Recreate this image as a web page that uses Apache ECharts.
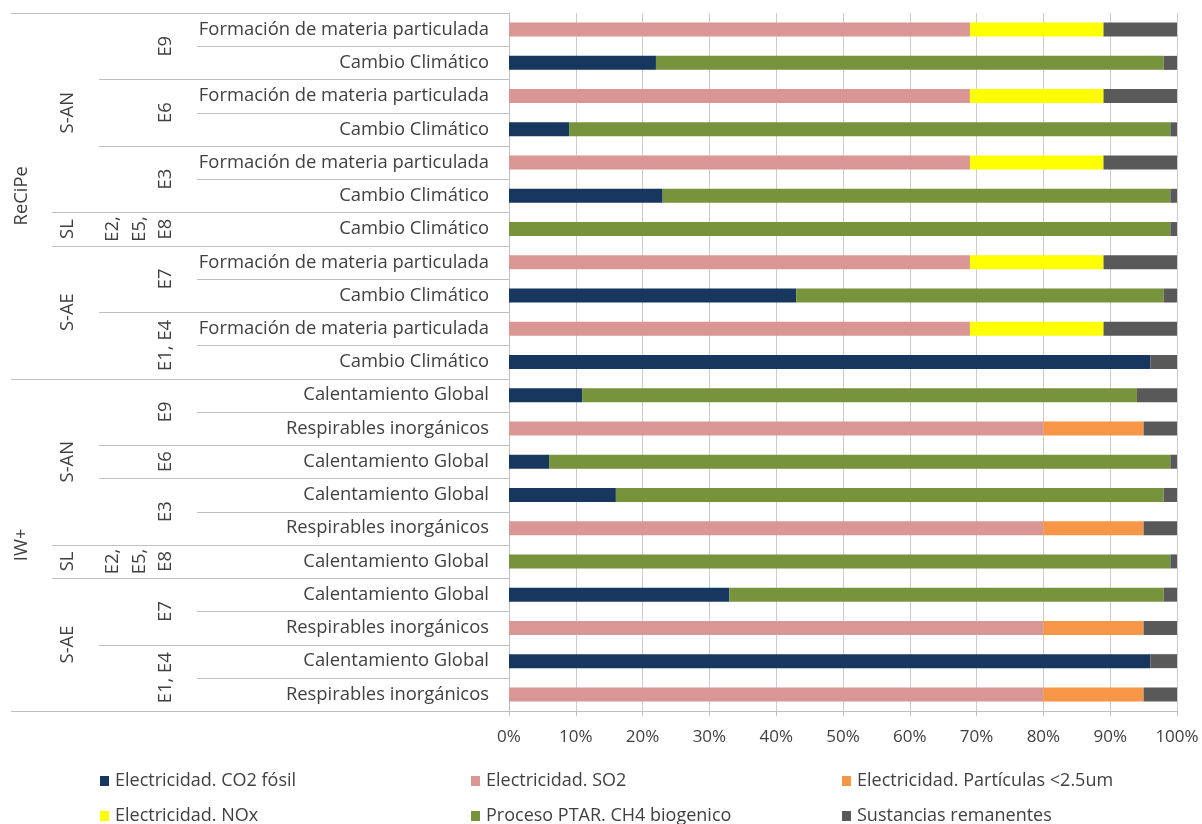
<!DOCTYPE html>
<html>
<head>
<meta charset="utf-8">
<script src="https://cdn.jsdelivr.net/npm/echarts@6/dist/echarts.min.js"></script>
<style>
html,body{margin:0;padding:0;background:#fff;}
#c{width:1202px;height:824px;}
</style>
</head>
<body>
<div id="c"></div>
<script>
// ---------- data ----------
const categories = [
  'Formación de materia particulada','Cambio Climático',
  'Formación de materia particulada','Cambio Climático',
  'Formación de materia particulada','Cambio Climático',
  'Cambio Climático',
  'Formación de materia particulada','Cambio Climático',
  'Formación de materia particulada','Cambio Climático',
  'Calentamiento Global','Respirables inorgánicos',
  'Calentamiento Global',
  'Calentamiento Global','Respirables inorgánicos',
  'Calentamiento Global',
  'Calentamiento Global','Respirables inorgánicos',
  'Calentamiento Global','Respirables inorgánicos'
];
const seriesNames = ['Electricidad. CO2 fósil','Electricidad. SO2','Electricidad. Partículas <2.5um',
  'Electricidad. NOx','Proceso PTAR. CH4 biogenico','Sustancias remanentes'];
const co2   = [0,22,0,9,0,23,0,0,43,0,96, 11,0,6,16,0,0,33,0,96,0];
const so2   = [69,0,69,0,69,0,0,69,0,69,0, 0,80,0,0,80,0,0,80,0,80];
const part  = [0,0,0,0,0,0,0,0,0,0,0, 0,15,0,0,15,0,0,15,0,15];
const nox   = [20,0,20,0,20,0,0,20,0,20,0, 0,0,0,0,0,0,0,0,0,0];
const ch4   = [0,76,0,90,0,76,99,0,55,0,0, 83,0,93,82,0,99,65,0,0,0];
const rem   = [11,2,11,1,11,1,1,11,2,11,4, 6,5,1,2,5,1,2,5,4,5];
const xTicks = [0,10,20,30,40,50,60,70,80,90,100];

// hierarchy groups: [label, firstRow, endRow)
const level1 = [['ReCiPe',0,11],['IW+',11,21]];
const level2 = [['S-AN',0,6],['SL',6,7],['S-AE',7,11],['S-AN',11,16],['SL',16,17],['S-AE',17,21]];
const level3 = [['E9',0,2],['E6',2,4],['E3',4,6],['E2,\nE5,\nE8',6,7],['E7',7,9],['E1, E4',9,11],
                ['E9',11,13],['E6',13,14],['E3',14,16],['E2,\nE5,\nE8',16,17],['E7',17,19],['E1, E4',19,21]];

const colors = ['#17375e','#d99694','#f79646','#ffff00','#77933c','#595959'];
const values = [co2,so2,part,nox,ch4,rem];

const FONT = 'Open Sans';
const TXT = '#404040';
const LINE = '#bfbfbf';

const chart = echarts.init(document.getElementById('c'));
const legendPos = [[100,770],[471,770],[842,770],[100,805],[471,805],[842,805]];

const option = {
  animation:false,
  color: colors,
  textStyle:{fontFamily:FONT},
  grid:{left:509,right:25,top:13,bottom:113,containLabel:false},
  xAxis:{type:'value',min:0,max:100,interval:10,
    axisLabel:{formatter:'{value}%',color:TXT,fontSize:17,margin:18,fontFamily:FONT,
      customValues: xTicks},
    axisLine:{show:true,lineStyle:{color:LINE}},
    axisTick:{show:true,length:5,lineStyle:{color:LINE}},
    splitLine:{show:true,lineStyle:{color:'#cccccc'}}
  },
  yAxis:{type:'category',inverse:true,data:categories,
    axisLabel:{color:TXT,fontSize:18.4,margin:20,fontFamily:FONT},
    axisLine:{show:true,lineStyle:{color:LINE}},
    axisTick:{show:false},splitLine:{show:false}
  },
  legend: seriesNames.map((n,i)=>({
    data:[n],left:legendPos[i][0],top:legendPos[i][1],padding:0,
    itemWidth:9,itemHeight:10,icon:'rect',itemGap:0,
    textStyle:{color:TXT,fontSize:18,fontFamily:FONT,lineHeight:22,padding:[0,0,0,1]}
  })),
  series: seriesNames.map((n,i)=>({
    name:n,type:'bar',stack:'t',barWidth:14,data:values[i],
    itemStyle:{color:colors[i]}
  }))
};
chart.setOption(option);

// hierarchical axis labels and separators
function rowTop(idx){
  const c0 = chart.convertToPixel({yAxisIndex:0},0);
  const c1 = chart.convertToPixel({yAxisIndex:0},1);
  const band = c1-c0;
  return c0 - band/2 + idx*band;
}
const axisX = chart.convertToPixel({xAxisIndex:0},0);
const g = [];
const LH = 26.5;
function hline(y,x0){
  g.push({type:'line',shape:{x1:x0,y1:Math.round(y)+0.5,x2:axisX,y2:Math.round(y)+0.5},
    style:{stroke:LINE,lineWidth:1},silent:true});
}
function vlabel(text,x,yc){
  g.push({type:'text',x:x,y:yc,rotation:Math.PI/2,
    style:{text:text,fill:TXT,font:'18.4px "'+FONT+'"',align:'center',verticalAlign:'middle',lineHeight:LH},
    silent:true});
}
for(let r=0;r<categories.length;r++) hline(rowTop(r),197);
level3.forEach(([t,a,b])=>{
  hline(rowTop(a),99);
  const n = t.split('\n').length;
  vlabel(t,166-(n-1)*LH/2,(rowTop(a)+rowTop(b))/2);
});
level2.forEach(([t,a,b])=>{hline(rowTop(a),52); vlabel(t,68,(rowTop(a)+rowTop(b))/2);});
level1.forEach(([t,a,b])=>{hline(rowTop(a),11); hline(rowTop(b),11); vlabel(t,22,(rowTop(a)+rowTop(b))/2);});
chart.setOption({graphic:g});
</script>
</body>
</html>
